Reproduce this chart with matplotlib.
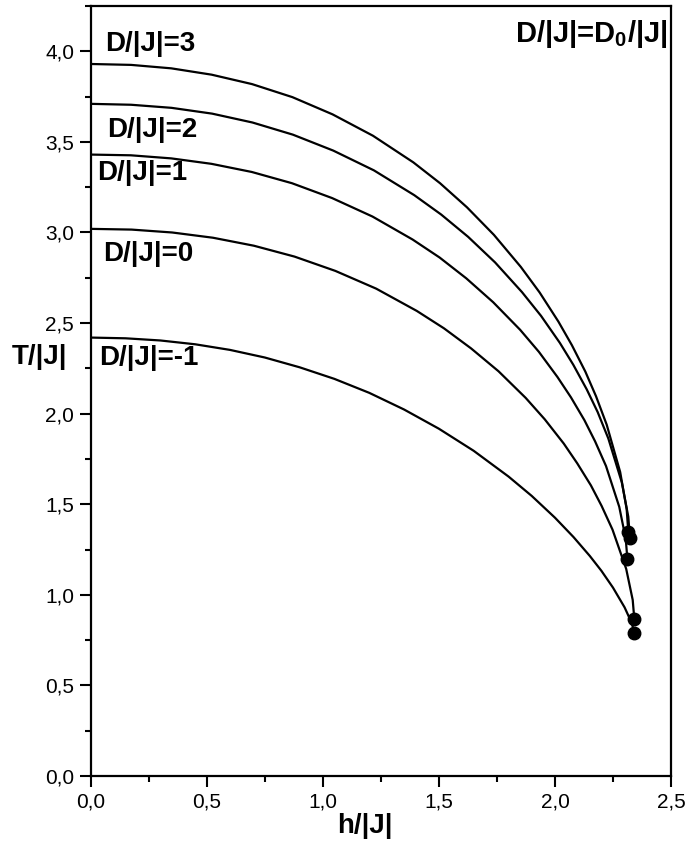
import numpy as np
import matplotlib
matplotlib.use('Agg')
import matplotlib.pyplot as plt
from matplotlib.ticker import MultipleLocator, FuncFormatter

plt.rcParams['font.family'] = ['Liberation Sans', 'DejaVu Sans']
plt.rcParams['mathtext.fontset'] = 'custom'
plt.rcParams['mathtext.rm'] = 'Liberation Sans'
plt.rcParams['mathtext.bf'] = 'Liberation Sans:bold'
plt.rcParams['mathtext.default'] = 'bf'

# phase boundaries T/|J| vs h/|J| for several D/|J|
labels = ['D/|J|=3', 'D/|J|=2', 'D/|J|=1', 'D/|J|=0', 'D/|J|=-1']

h_d3 = [0.0, 0.174, 0.347, 0.521, 0.695, 0.869, 1.042, 1.216, 1.390, 1.505, 1.621,
        1.737, 1.853, 1.934, 2.015, 2.073, 2.131, 2.177, 2.223, 2.281, 2.309, 2.316]
t_d3 = [3.930, 3.925, 3.906, 3.871, 3.819, 3.747, 3.652, 3.534, 3.387, 3.272, 3.139,
        2.987, 2.810, 2.669, 2.508, 2.378, 2.232, 2.096, 1.939, 1.678, 1.473, 1.346]

h_d2 = [0.0, 0.174, 0.348, 0.523, 0.697, 0.871, 1.045, 1.220, 1.394, 1.510, 1.626,
        1.742, 1.858, 1.940, 2.021, 2.079, 2.137, 2.184, 2.230, 2.288, 2.316, 2.323]
t_d2 = [3.710, 3.705, 3.688, 3.656, 3.607, 3.540, 3.452, 3.343, 3.206, 3.099, 2.976,
        2.835, 2.671, 2.540, 2.391, 2.270, 2.134, 2.009, 1.863, 1.621, 1.431, 1.313]

h_d1 = [0.0, 0.173, 0.347, 0.520, 0.694, 0.867, 1.040, 1.214, 1.387, 1.503, 1.618,
        1.734, 1.850, 1.931, 2.011, 2.069, 2.127, 2.173, 2.220, 2.277, 2.305, 2.312]
t_d1 = [3.430, 3.426, 3.409, 3.379, 3.334, 3.272, 3.190, 3.088, 2.961, 2.862, 2.747,
        2.615, 2.463, 2.341, 2.202, 2.090, 1.964, 1.847, 1.711, 1.486, 1.309, 1.199]

h_d0 = [0.0, 0.176, 0.351, 0.527, 0.703, 0.878, 1.054, 1.230, 1.405, 1.522, 1.639,
        1.757, 1.874, 1.956, 2.038, 2.096, 2.155, 2.201, 2.248, 2.307, 2.335, 2.342]
t_d0 = [3.020, 3.016, 3.000, 2.971, 2.927, 2.867, 2.788, 2.690, 2.567, 2.471, 2.360,
        2.234, 2.087, 1.969, 1.835, 1.726, 1.604, 1.491, 1.360, 1.143, 0.972, 0.866]

h_dm1 = [0.0, 0.15, 0.3, 0.45, 0.6, 0.75, 0.9, 1.05, 1.2, 1.35, 1.5,
         1.65, 1.8, 1.9, 2.0, 2.08, 2.15, 2.2, 2.25, 2.30, 2.33, 2.342]
t_dm1 = [2.420, 2.416, 2.404, 2.383, 2.352, 2.310, 2.256, 2.192, 2.115, 2.023, 1.917,
         1.795, 1.653, 1.546, 1.426, 1.319, 1.215, 1.133, 1.040, 0.931, 0.847, 0.792]

curves = [(h_d3, t_d3), (h_d2, t_d2), (h_d1, t_d1), (h_d0, t_d0), (h_dm1, t_dm1)]

# where each label sits (left edge, baseline) in data units
label_pos = [(0.062, 4.0), (0.070, 3.525), (0.027, 3.287), (0.053, 2.84), (0.036, 2.271)]

fig = plt.figure(figsize=(6.88, 8.46), dpi=100)
ax = fig.add_axes([0.1318, 0.0827, 0.8435, 0.9102])

for (h, t) in curves:
    ax.plot(h, t, color='black', lw=1.6, solid_joinstyle='round')
    ax.plot(h[-1], t[-1], 'o', color='black', ms=9)

for lab, (x, y) in zip(labels, label_pos):
    ax.text(x, y, lab, fontsize=20, fontweight='bold', ha='left', va='baseline')

ax.text(2.483, 4.05, 'D/|J|=D$_0$/|J|', fontsize=21, fontweight='bold',
        ha='right', va='baseline')

ax.set_xlim(0, 2.5)
ax.set_ylim(0, 4.25)
ax.xaxis.set_major_locator(MultipleLocator(0.5))
ax.xaxis.set_minor_locator(MultipleLocator(0.25))
ax.yaxis.set_major_locator(MultipleLocator(0.5))
ax.yaxis.set_minor_locator(MultipleLocator(0.25))
comma = FuncFormatter(lambda v, p: ('%.1f' % v).replace('.', ','))
ax.xaxis.set_major_formatter(comma)
ax.yaxis.set_major_formatter(comma)
ax.tick_params(which='major', direction='out', length=8, width=1.5, labelsize=15, pad=4)
ax.tick_params(which='minor', direction='out', length=4.5, width=1.5)
for s in ax.spines.values():
    s.set_linewidth(1.6)

fig.text(40 / 688, 1 - 357 / 846, 'T/|J|', fontsize=20, fontweight='bold', ha='center', va='center')
fig.text(365 / 688, 1 - 826 / 846, 'h/|J|', fontsize=20, fontweight='bold', ha='center', va='center')

fig.savefig('out.png', dpi=100)
